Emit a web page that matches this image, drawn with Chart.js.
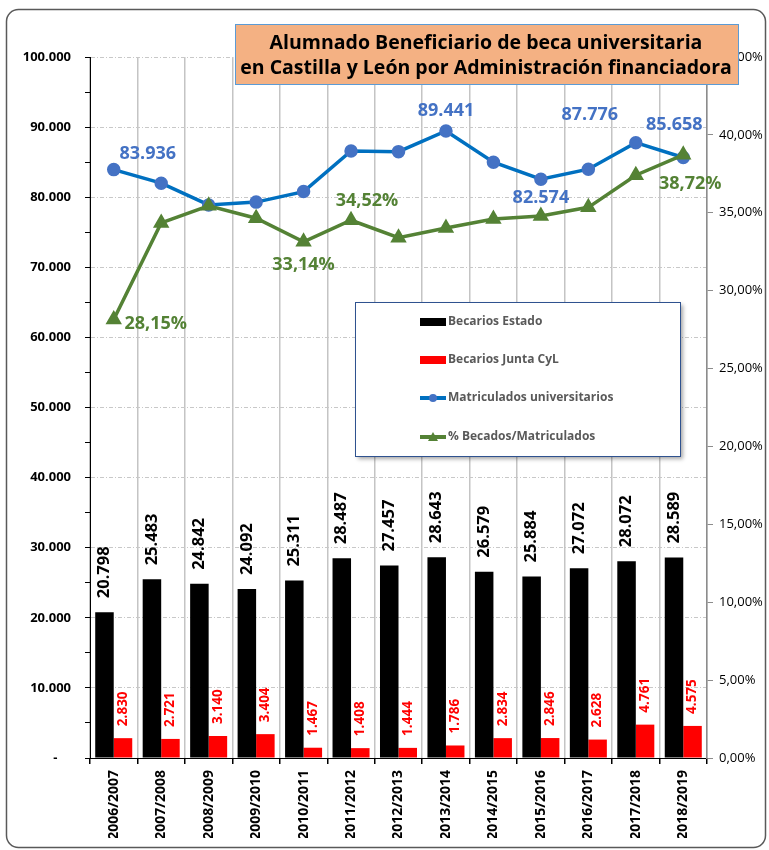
<!DOCTYPE html>
<html>
<head>
<meta charset="utf-8">
<title>Alumnado Beneficiario de beca universitaria</title>
<script src="https://cdn.jsdelivr.net/npm/chart.js@4.4.0/dist/chart.umd.min.js"></script>
<style>
  html, body { margin: 0; padding: 0; background: #fff; }
  #wrap { width: 769px; height: 850px; }
</style>
</head>
<body>
<div id="wrap"><canvas id="chart" width="769" height="850"></canvas></div>
<script>
// datos
const years = ['2006/2007', '2007/2008', '2008/2009', '2009/2010', '2010/2011', '2011/2012',
  '2012/2013', '2013/2014', '2014/2015', '2015/2016', '2016/2017', '2017/2018', '2018/2019'];
const becariosEstado = [20798, 25483, 24842, 24092, 25311, 28487, 27457, 28643, 26579, 25884, 27072, 28072, 28589];
const becariosJunta = [2830, 2721, 3140, 3404, 1467, 1408, 1444, 1786, 2834, 2846, 2628, 4761, 4575];
const matriculados = [83936, 82000, 78900, 79300, 80800, 86600, 86500, 89441, 85000, 82574, 84000, 87776, 85658];
const pctBecados = [28.15, 34.35, 35.45, 34.65, 33.14, 34.52, 33.4, 34.02, 34.6, 34.79, 35.35, 37.41, 38.72];

const titleLines = ['Alumnado Beneficiario de beca universitaria', 'en Castilla y León por Administración financiadora'];
const legendNames = ['Becarios Estado', 'Becarios Junta CyL', 'Matriculados universitarios', '% Becados/Matriculados'];

const FONT = '"Open Sans", "Noto Sans", sans-serif';
const BLUE_LINE = '#0070C0';
const BLUE = '#4472C4';
const GREEN = '#548235';

function miles(v) {
  return String(Math.round(v)).replace(/\B(?=(\d{3})+(?!\d))/g, '.');
}
function pct(v) {
  return v.toFixed(2).replace('.', ',') + '%';
}

// which points carry a value label, and where (offset from the point)
const blueLabels = [[0, 34, -16], [7, 0, -20], [9, 0, 19], [11, -46, -28], [12, -9, -33]];
const greenLabels = [[0, 42, 4], [4, 0, 23], [5, 16, -19], [12, 7, 29]];

const extras = {
  id: 'extras',
  beforeDraw(chart) {
    const ctx = chart.ctx;
    ctx.save();
    ctx.fillStyle = '#fff';
    ctx.fillRect(0, 0, chart.width, chart.height);
    ctx.restore();
  },
  afterDraw(chart) {
    const ctx = chart.ctx;

    // etiquetas de barras, giradas
    const barLabels = (dsIndex, color, size, gap) => {
      const meta = chart.getDatasetMeta(dsIndex);
      const values = chart.data.datasets[dsIndex].data;
      meta.data.forEach((bar, i) => {
        ctx.save();
        ctx.translate(bar.x, bar.y - gap);
        ctx.rotate(-Math.PI / 2);
        ctx.font = `bold ${size}px ${FONT}`;
        ctx.fillStyle = color;
        ctx.textAlign = 'left';
        ctx.textBaseline = 'middle';
        ctx.fillText(miles(values[i]), 0, 0);
        ctx.restore();
      });
    };
    barLabels(0, '#000', 16.5, 14);
    barLabels(1, '#FF0000', 13.5, 12);

    // etiquetas de lineas
    const pointLabels = (dsIndex, list, color, fmt) => {
      const meta = chart.getDatasetMeta(dsIndex);
      const values = chart.data.datasets[dsIndex].data;
      ctx.save();
      ctx.font = `bold 18px ${FONT}`;
      ctx.fillStyle = color;
      ctx.textAlign = 'center';
      ctx.textBaseline = 'middle';
      list.forEach(([i, dx, dy]) => {
        const p = meta.data[i];
        ctx.fillText(fmt(values[i]), p.x + dx, p.y + dy);
      });
      ctx.restore();
    };
    pointLabels(2, blueLabels, BLUE, miles);
    pointLabels(3, greenLabels, GREEN, pct);

    // leyenda
    const lx = 355, ly = 302, lw = 325, lh = 154;
    ctx.save();
    ctx.shadowColor = 'rgba(0,0,0,0.35)';
    ctx.shadowOffsetX = 3;
    ctx.shadowOffsetY = 3;
    ctx.shadowBlur = 4;
    ctx.fillStyle = '#fff';
    ctx.fillRect(lx, ly, lw, lh);
    ctx.restore();
    ctx.save();
    ctx.strokeStyle = '#2F528F';
    ctx.lineWidth = 1;
    ctx.strokeRect(lx + 0.5, ly + 0.5, lw, lh);
    ctx.font = `bold 12px ${FONT}`;
    ctx.textBaseline = 'middle';
    const rows = [322, 360, 398, 437];
    const sx = 420, sw = 26;
    rows.forEach((y, k) => {
      if (k === 0 || k === 1) {
        ctx.fillStyle = k === 0 ? '#000' : '#FF0000';
        ctx.fillRect(sx, y - 4, sw, 8);
      } else {
        ctx.strokeStyle = k === 2 ? BLUE_LINE : GREEN;
        ctx.lineWidth = 4;
        ctx.beginPath();
        ctx.moveTo(sx, y);
        ctx.lineTo(sx + sw, y);
        ctx.stroke();
        ctx.fillStyle = k === 2 ? BLUE : GREEN;
        ctx.beginPath();
        if (k === 2) {
          ctx.arc(sx + sw / 2, y, 4, 0, Math.PI * 2);
        } else {
          ctx.moveTo(sx + sw / 2, y - 5);
          ctx.lineTo(sx + sw / 2 + 5, y + 4);
          ctx.lineTo(sx + sw / 2 - 5, y + 4);
          ctx.closePath();
        }
        ctx.fill();
      }
      ctx.fillStyle = '#595959';
      ctx.textAlign = 'left';
      ctx.fillText(legendNames[k], sx + sw + 2, y);
    });
    ctx.restore();

    // titulo
    ctx.save();
    ctx.fillStyle = '#F4B183';
    ctx.fillRect(235, 24, 503, 60);
    ctx.strokeStyle = '#5B9BD5';
    ctx.lineWidth = 1;
    ctx.strokeRect(235.5, 24.5, 503, 60);
    ctx.fillStyle = '#000';
    ctx.font = `bold 19.5px ${FONT}`;
    ctx.textAlign = 'center';
    ctx.textBaseline = 'middle';
    ctx.fillText(titleLines[0], 486, 43);
    ctx.fillText(titleLines[1], 486, 68);
    ctx.restore();

    // marco redondeado
    ctx.save();
    ctx.strokeStyle = '#595959';
    ctx.lineWidth = 1.5;
    ctx.beginPath();
    ctx.roundRect(6.5, 9.5, 759, 838, 12);
    ctx.stroke();
    ctx.restore();
  }
};

new Chart(document.getElementById('chart'), {
  type: 'bar',
  data: {
    labels: years,
    datasets: [
      { type: 'bar', label: legendNames[0], data: becariosEstado, backgroundColor: '#000', yAxisID: 'y', order: 2,
        categoryPercentage: 0.78, barPercentage: 1 },
      { type: 'bar', label: legendNames[1], data: becariosJunta, backgroundColor: '#FF0000', yAxisID: 'y', order: 3,
        categoryPercentage: 0.78, barPercentage: 1 },
      { type: 'line', label: legendNames[2], data: matriculados, yAxisID: 'y', order: 1,
        borderColor: BLUE_LINE, borderWidth: 3.5, tension: 0,
        pointRadius: 5, pointBackgroundColor: BLUE, pointBorderColor: BLUE },
      { type: 'line', label: legendNames[3], data: pctBecados, yAxisID: 'y1', order: 0,
        borderColor: GREEN, borderWidth: 3.5, tension: 0,
        pointStyle: 'triangle', pointRadius: 6, pointBackgroundColor: GREEN, pointBorderColor: GREEN }
    ]
  },
  options: {
    responsive: false,
    animation: false,
    layout: { padding: { top: 57, left: 0, right: 0, bottom: 12 } },
    plugins: { legend: { display: false }, tooltip: { enabled: false } },
    scales: {
      x: {
        offset: true,
        grid: { offset: true, color: '#c4c4c4', lineWidth: 1.5, tickLength: 6, tickColor: '#000' },
        border: { color: '#000', width: 1 },
        ticks: {
          autoSkip: false, maxRotation: 90, minRotation: 90, padding: 6,
          color: '#000', font: { family: FONT, size: 14, weight: 'bold' }
        },
        afterFit: (scale) => { scale.height = 80; }
      },
      y: {
        position: 'left',
        min: 0, max: 100000,
        grid: {
          color: (c) => (c.tick && c.tick.value % 10000 === 0 ? '#c8c8c8' : 'transparent'),
          lineWidth: 1, tickLength: 5, tickColor: '#000'
        },
        border: { color: '#000', width: 1, dash: [4, 2, 1, 2] },
        ticks: {
          stepSize: 5000, autoSkip: false, padding: 14, color: '#000',
          font: { family: FONT, size: 13, weight: 'bold' },
          callback: (v) => (v === 0 ? '-    ' : v % 10000 === 0 ? miles(v) : '')
        },
        afterFit: (scale) => { scale.width = 90; }
      },
      y1: {
        position: 'right',
        min: 0, max: 45,
        grid: { drawOnChartArea: false, tickLength: 6, tickColor: '#8c8c8c' },
        border: { color: '#8c8c8c', width: 1.5 },
        ticks: {
          stepSize: 5, padding: 6, color: '#000',
          font: { family: FONT, size: 13 },
          callback: (v) => pct(v)
        },
        afterFit: (scale) => { scale.width = 62; }
      }
    }
  },
  plugins: [extras]
});
</script>
</body>
</html>
